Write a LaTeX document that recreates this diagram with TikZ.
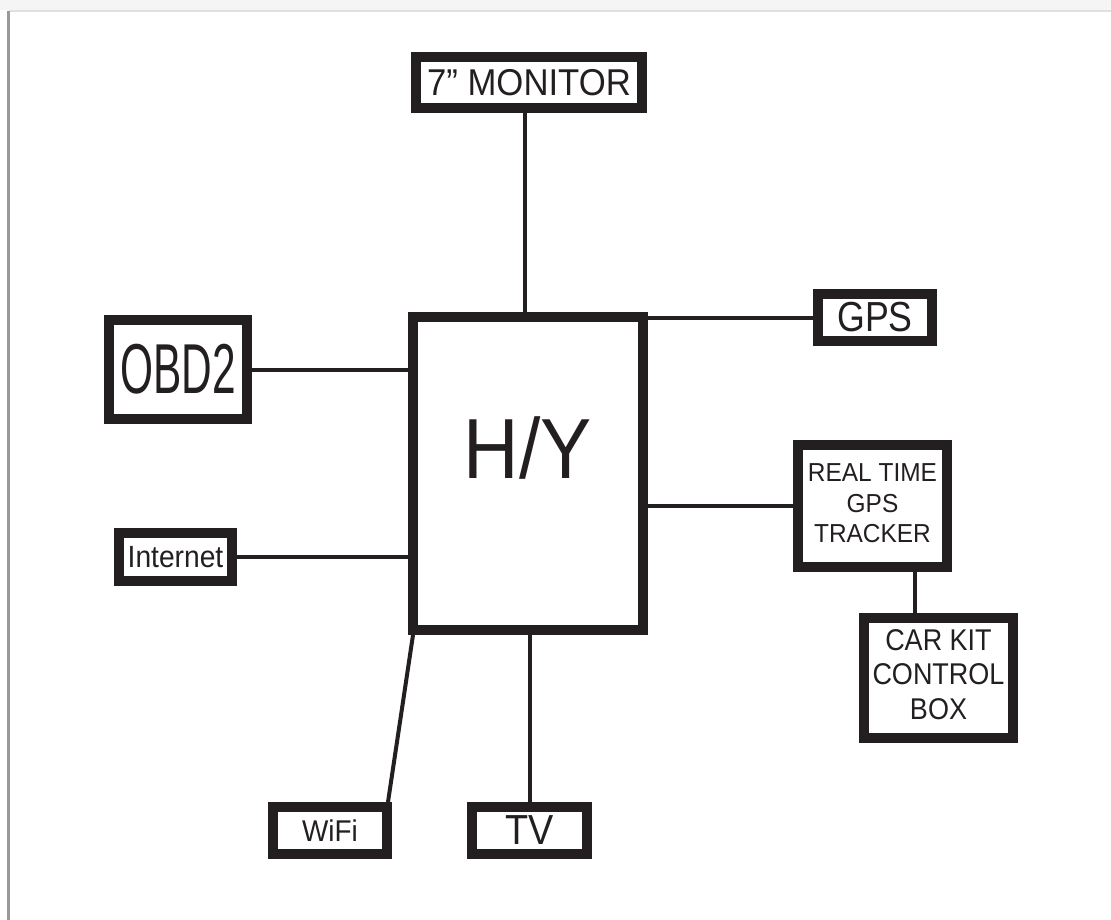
\documentclass[tikz,border=0pt]{standalone}
\usepackage{fontspec}
\usepackage{graphicx}
\setmainfont{Liberation Sans}
\usetikzlibrary{calc}
\definecolor{ink}{RGB}{35,31,32}
\begin{document}
\begin{tikzpicture}[x=0.75pt,y=-0.75pt,
  blk/.style={draw=ink, line width=7.5pt, inner sep=0pt, text=ink, align=center},
  conn/.style={draw=ink, line width=3pt},
  lbl/.style={inner sep=0pt, text=ink}
]
\useasboundingbox (0,0) rectangle (1111,920);
\fill[white] (0,0) rectangle (1111,920);
\fill[black!4] (0,0) rectangle (1111,10);
\draw[black!12, line width=1.5pt] (9,11) -- (1111,11);
\draw[black!40, line width=2.25pt] (8,11) -- (8,920);

\node[blk, minimum width=169.5pt, minimum height=38.25pt] (mon) at (529,82.5)
  {\fontsize{28}{28}\selectfont\scalebox{0.93}[1]{7” MONITOR}};
\node[blk, minimum width=103.5pt, minimum height=74.25pt] (obd) at (178,369.5)
  {\fontsize{53}{53}\selectfont\scalebox{0.6}[1]{OBD2}};
\node[blk, minimum width=172.5pt, minimum height=234.75pt] (hy) at (528,473.5) {};
\node[lbl] (hyl) at ([yshift=19.5pt]hy.center)
  {\fontsize{64}{64}\selectfont\scalebox{0.9}[1]{H/Y}};
\node[blk, minimum width=84.75pt, minimum height=36pt] (net) at (175.5,557)
  {\fontsize{23}{23}\selectfont\scalebox{0.92}[1]{Internet}};
\node[blk, minimum width=85.5pt, minimum height=35.25pt] (gps) at (875,317.5)
  {\fontsize{31.5}{31.5}\selectfont\scalebox{0.85}[1]{GPS}};
\node[blk, minimum width=111.75pt, minimum height=91.5pt] (rt) at (872.5,506)
  {\fontsize{19.5}{23}\selectfont\raisebox{-2.5pt}{\scalebox{0.94}[1]{\begin{tabular}{@{}c@{}}REAL TIME\\GPS\\TRACKER\end{tabular}}}};
\node[blk, minimum width=111.75pt, minimum height=90pt] (car) at (938.5,678)
  {\fontsize{22.5}{26}\selectfont\scalebox{0.9}[1]{\begin{tabular}{@{}c@{}}CAR KIT\\CONTROL\\BOX\end{tabular}}};
\node[blk, minimum width=85.5pt, minimum height=35.25pt] (wifi) at (330,830.5)
  {\fontsize{22.5}{22.5}\selectfont\scalebox{0.93}[1]{WiFi}};
\node[blk, minimum width=86.25pt, minimum height=35.25pt] (tv) at (529.5,830.5)
  {\fontsize{31.5}{31.5}\selectfont\scalebox{0.9}[1]{TV}};

\coordinate (mt) at ([xshift=-2.25pt]hy.north);
\draw[conn] (mt) -- (mt |- mon.south);
\draw[conn] (obd.east) -- (obd.east -| hy.west);
\draw[conn] (net.east) -- (net.east -| hy.west);
\draw[conn] (gps.west) -- (gps.west -| hy.east);
\draw[conn] (rt.west) -- (rt.west -| hy.east);
\coordinate (ck) at ($(car.north west)!0.35!(car.north east)$);
\draw[conn] (ck) -- (ck |- rt.south);
\coordinate (wt) at ([xshift=-3pt]wifi.north east);
\coordinate (wh) at ([xshift=3.75pt]hy.south west);
\draw[conn] (wh) -- (wt);
\draw[conn] (tv.north) -- (tv.north |- hy.south);
\end{tikzpicture}
\end{document}
